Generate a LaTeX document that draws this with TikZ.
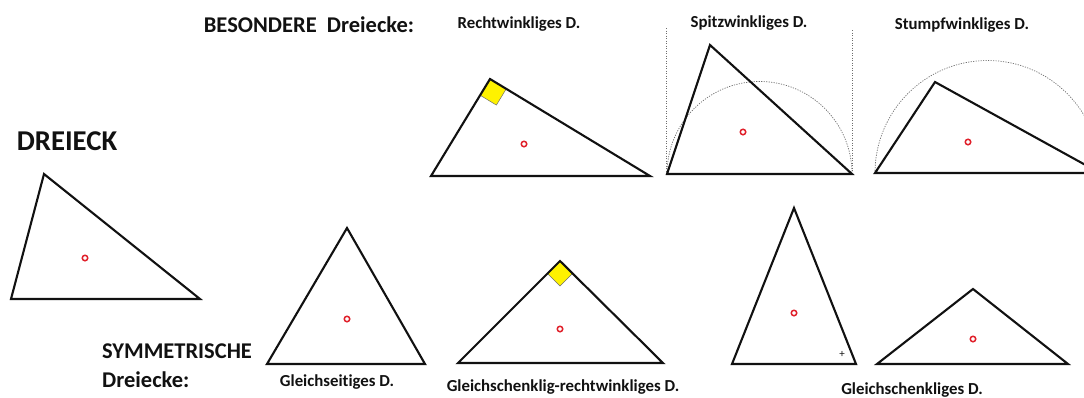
\documentclass[tikz,border=0pt]{standalone}
\usepackage{fontspec}
\setmainfont{Carlito}[Ligatures=NoCommon]
\usetikzlibrary{calc}
\definecolor{ink}{HTML}{111111}
\definecolor{ptc}{HTML}{E0202A}
\definecolor{rightc}{HTML}{FFF200}
\definecolor{helpc}{HTML}{6E6E6E}

\begin{document}
\begin{tikzpicture}[
  x=1pt,y=-1pt,
  tri/.style={draw=ink,line width=2.1pt,line join=miter},
  ctr/.style={circle,draw=ptc,line width=1.5pt,fill=white,inner sep=0pt,minimum size=5.5pt},
  rangle/.style={fill=rightc,draw=helpc,line width=0.5pt},
  aux/.style={draw=helpc,line width=0.7pt,dash pattern=on 1.2pt off 1.3pt},
  head/.style={font=\bfseries\fontsize{22.5}{29}\selectfont,text=ink},
  lbl/.style={font=\bfseries\fontsize{16.8}{19}\selectfont,text=ink},
]
\useasboundingbox (0,0) rectangle (1084,397);

% ===================== HEADINGS =====================
\node[font=\bfseries\fontsize{28.7}{32}\selectfont,text=ink] (tDreieck) at (67,141) {DREIECK};
\node[head] (tBesonders) at (309,25) {BESONDERE\ \ Dreiecke:};
\node[head,anchor=west,align=left,inner sep=0pt] (tSymm) at (102,366) {SYMMETRISCHE\\Dreiecke:};

% ===================== GENERAL TRIANGLE =====================
\coordinate (gA) at (11,299); \coordinate (gB) at (200,299); \coordinate (gC) at (44,174);
\draw[tri] (gA)--(gB)--(gC)--cycle;
\node[ctr] (gM) at (85,258) {};

% ===================== BESONDERE =====================
% right-angled
\node[lbl] (tRecht) at (519,24) {Rechtwinkliges D.};
\coordinate (rA) at (431,176); \coordinate (rB) at (650,176); \coordinate (rC) at (490,79);
\draw[rangle] (rC) -- ($(rC)!19pt!(rB)$) -- ($(rC)!19pt!(rB)+(rC)!19pt!(rA)-(rC)$) -- ($(rC)!19pt!(rA)$) -- cycle;
\draw[tri] (rA)--(rB)--(rC)--cycle;
\node[ctr] (rM) at (524,144) {};

% acute: apex outside the Thales half circle
\node[lbl] (tSpitz) at (749,23) {Spitzwinkliges D.};
\coordinate (sA) at (667,174); \coordinate (sB) at (852,174); \coordinate (sC) at (710,45);
\coordinate (sL) at (666,28); \coordinate (sR) at (852,30);
\draw[aux] (sL)--(666,174) (sR)--(sB);
\draw[aux] (sB) arc[start angle=0,end angle=-180,radius=92.5];
\draw[tri] (sA)--(sB)--(sC)--cycle;
\node[ctr] (sM) at (743,132) {};

% obtuse: apex inside the Thales half circle
\node[lbl] (tStumpf) at (962,25) {Stumpfwinkliges D.};
\coordinate (oA) at (875,173); \coordinate (oB) at (1100,173); \coordinate (oC) at (935,82);
\draw[aux] (oB) arc[start angle=0,end angle=-180,radius=112.5];
\draw[tri] (oA)--(oB)--(oC)--cycle;
\node[ctr] (oM) at (968,142) {};

% ===================== SYMMETRISCHE =====================
% equilateral
\coordinate (eA) at (267,364); \coordinate (eB) at (425,364); \coordinate (eC) at (347,228);
\draw[tri] (eA)--(eB)--(eC)--cycle;
\node[ctr] (eM) at (347,319) {};
\node[lbl] (tGleichs) at (337,382) {Gleichseitiges D.};

% isosceles right-angled
\coordinate (iA) at (458,363); \coordinate (iB) at (663,363); \coordinate (iC) at (560,261);
\draw[rangle] (iC) -- ($(iC)!17.7pt!(iB)$) -- (560,286) -- ($(iC)!17.7pt!(iA)$) -- cycle;
\draw[tri] (iA)--(iB)--(iC)--cycle;
\node[ctr] (iM) at (560,329) {};
\node[lbl] (tGlRecht) at (563,387) {Gleichschenklig-rechtwinkliges D.};

% isosceles (tall and flat)
\coordinate (kA) at (732,364); \coordinate (kB) at (856,364); \coordinate (kC) at (794,208);
\draw[tri] (kA)--(kB)--(kC)--cycle;
\node[ctr] (kM) at (794,313) {};
\node[font=\fontsize{11}{11}\selectfont,text=ink] (kPlus) at (842,354) {+};
\coordinate (fA) at (877,364); \coordinate (fB) at (1068,364); \coordinate (fC) at (973,289);
\draw[tri] (fA)--(fB)--(fC)--cycle;
\node[ctr] (fM) at (973,339) {};
\node[lbl] (tGlSch) at (912,390) {Gleichschenkliges D.};

\end{tikzpicture}
\end{document}
